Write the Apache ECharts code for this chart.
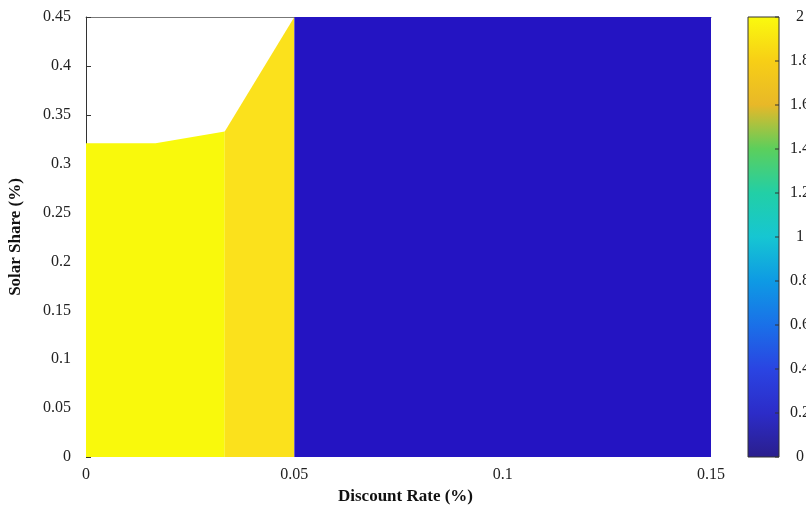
<!DOCTYPE html>
<html>
<head>
<meta charset="utf-8">
<script src="https://cdn.jsdelivr.net/npm/echarts@6/dist/echarts.min.js"></script>
<style>html,body{margin:0;padding:0;background:#fff}#c{width:806px;height:506px}</style>
</head>
<body>
<div id="c"></div>
<script>
// Region boundaries: [discount rate, solar share upper boundary]
var regionHigh = [[0, 0.321], [0.0167, 0.321], [0.0333, 0.333]];   // value ~2.0
var regionMid  = [[0.0333, 0.333], [0.05, 0.45]];                   // value ~1.9
var regionLow  = [[0.05, 0.45], [0.15, 0.45]];                      // value ~0.1
var regionValues = [2.0, 1.9, 0.1];
var xTicks = [0, 0.05, 0.1, 0.15];
var yTicks = [0, 0.05, 0.1, 0.15, 0.2, 0.25, 0.3, 0.35, 0.4, 0.45];
var cbTicks = [0, 0.2, 0.4, 0.6, 0.8, 1, 1.2, 1.4, 1.6, 1.8, 2];
var cbColors = ['#2a1e8c','#2c2cc8','#2a44e2','#1a70e8','#0e9ae4','#16c6d2','#22cfa6','#5ccf5c','#e8b828','#f7cf16','#fafa0e'];
var cbRange = [[0, 0, 1, 2]];

var font = 'Liberation Serif, Times New Roman, serif';
var regionColors = ['#f9f90c', '#fbe11c', '#2414c2'];

function area(data, color) {
  return {
    type: 'line', xAxisIndex: 0, yAxisIndex: 0, data: data,
    showSymbol: false, symbol: 'none', lineStyle: {width: 0, color: color},
    areaStyle: {color: color, opacity: 1}, itemStyle: {color: color},
    silent: true, animation: false, zlevel: 1, clip: true
  };
}

var chart = echarts.init(document.getElementById('c'), null, {renderer: 'canvas'});
chart.setOption({
  animation: false,
  backgroundColor: '#fff',
  grid: [
    {left: 86, top: 17, width: 625, height: 440, show: false, containLabel: false, outerBoundsMode: 'none'},
    {left: 748, top: 17, width: 31, height: 440, show: false, containLabel: false, outerBoundsMode: 'none'}
  ],
  xAxis: [
    {type: 'value', gridIndex: 0, min: 0, max: 0.15, interval: 0.05,
     name: 'Discount Rate (%)', nameLocation: 'middle', nameGap: 30,
     nameTextStyle: {fontFamily: font, fontSize: 17, fontWeight: 'bold', color: '#111', padding: [0,0,0,14]},
     axisLine: {show: false},
     axisTick: {show: false},
     axisLabel: {fontFamily: font, fontSize: 16, color: '#222', margin: 10,
       formatter: function (v) { return String(+v.toFixed(4)); }},
     splitLine: {show: false}},
    {type: 'value', gridIndex: 0, position: 'top', min: 0, max: 0.15,
     axisLine: {show: true, lineStyle: {color: '#777'}}, axisTick: {show: false},
     axisLabel: {show: false}, splitLine: {show: false}},
    {type: 'value', gridIndex: 1, min: 0, max: 1, show: false}
  ],
  yAxis: [
    {type: 'value', gridIndex: 0, min: 0, max: 0.45, interval: 0.05,
     name: 'Solar Share (%)', nameLocation: 'middle', nameGap: 62, nameRotate: 90,
     nameTextStyle: {fontFamily: font, fontSize: 17, fontWeight: 'bold', color: '#111'},
     axisLine: {show: true, lineStyle: {color: '#333'}},
     axisTick: {show: true, inside: true, length: 5, lineStyle: {color: '#333'}},
     axisLabel: {fontFamily: font, fontSize: 16, color: '#222', margin: 15,
       formatter: function (v) { return String(+v.toFixed(4)); }},
     splitLine: {show: false}},
    {type: 'value', gridIndex: 1, position: 'right', min: 0, max: 2, interval: 0.2,
     axisLine: {show: false},
     axisTick: {show: false},
     axisLabel: {fontFamily: font, fontSize: 16, color: '#222', margin: 21, align: 'center',
       formatter: function (v) { return String(+v.toFixed(2)); }},
     splitLine: {show: false}}
  ],
  series: [
    area(regionHigh, regionColors[0]),
    area(regionMid, regionColors[1]),
    area(regionLow, regionColors[2]),
    {type: 'custom', xAxisIndex: 2, yAxisIndex: 1, data: cbRange, silent: true, zlevel: 1,
     renderItem: function (params, api) {
       var p0 = api.coord([api.value(0), api.value(1)]);
       var p1 = api.coord([api.value(2), api.value(3)]);
       var stops = cbColors.map(function (c, i) { return {offset: i / (cbColors.length - 1), color: c}; });
       return {
         type: 'group',
         children: [
           {type: 'rect', shape: {x: p0[0], y: p1[1], width: p1[0] - p0[0], height: p0[1] - p1[1]},
            style: {fill: new echarts.graphic.LinearGradient(0, 1, 0, 0, stops), stroke: '#333', lineWidth: 1}},
         ].concat(cbTicks.map(function (t) {
           var a = api.coord([api.value(2), t]);
           return {type: 'line', shape: {x1: a[0] - 4, y1: a[1], x2: a[0], y2: a[1]}, style: {stroke: '#333', lineWidth: 1}};
         }))
       };
     }}
  ]
});
</script>
</body>
</html>
